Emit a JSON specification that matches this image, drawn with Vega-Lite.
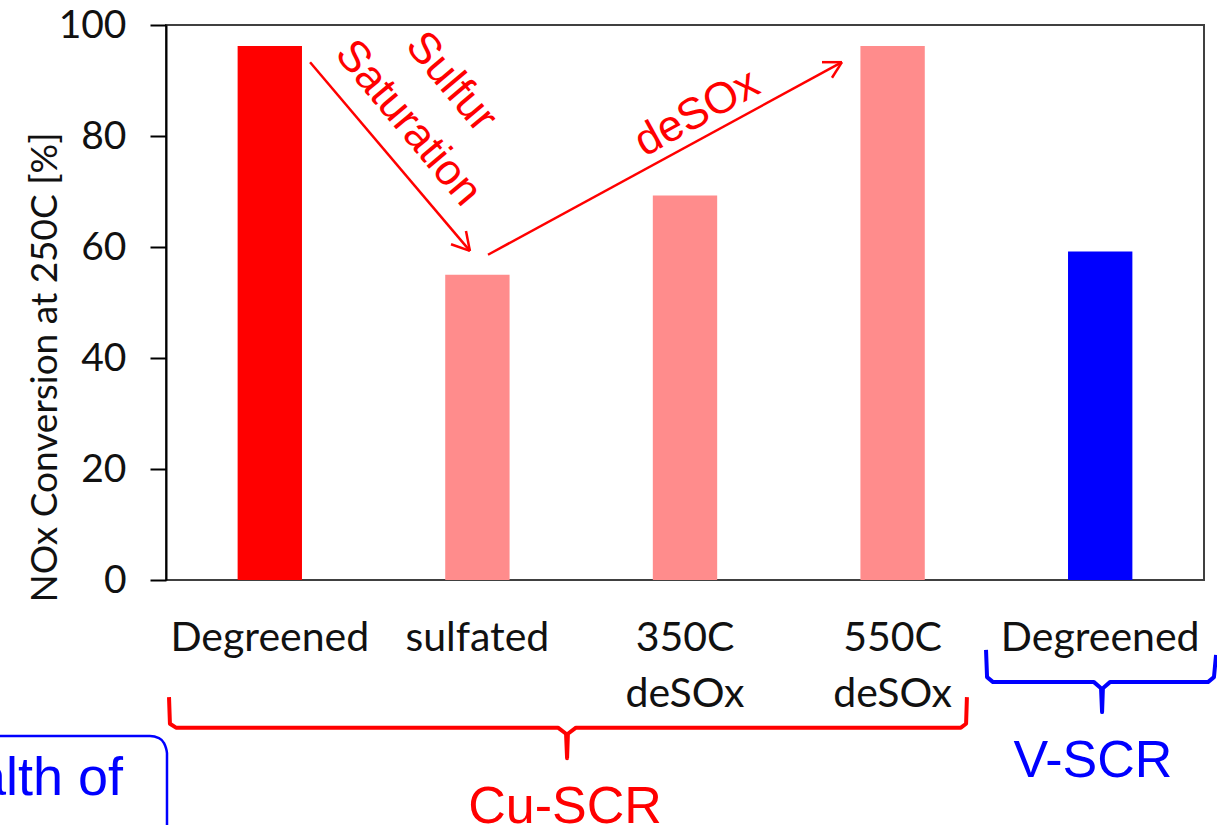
{
  "$schema": "https://vega.github.io/schema/vega-lite/v6.json",
  "width": 1038,
  "height": 555,
  "autosize": {"type": "none"},
  "padding": {"left": 166, "top": 25, "right": 13, "bottom": 245},
  "background": "white",
  "config": {"view": {"stroke": "#404040", "strokeWidth": 2}, "font": "Lato"},
  "datasets": {
    "bars": [
      {"cat": "Degreened", "value": 96.2, "sample": "Cu degreened"},
      {"cat": "sulfated", "value": 55.0, "sample": "Cu treated"},
      {"cat": "350C|deSOx", "value": 69.3, "sample": "Cu treated"},
      {"cat": "550C|deSOx", "value": 96.2, "sample": "Cu treated"},
      {"cat": "Degreened ", "value": 59.2, "sample": "V degreened"}
    ],
    "arrows": [
      {"x": 0.694, "y": 93.3, "x2": 1.464, "y2": 59.3},
      {"x": 1.445, "y": 62.9, "x2": 1.464, "y2": 59.3},
      {"x": 1.373, "y": 60.5, "x2": 1.464, "y2": 59.3},
      {"x": 1.551, "y": 58.6, "x2": 3.256, "y2": 93.3},
      {"x": 3.160, "y": 93.3, "x2": 3.256, "y2": 93.3},
      {"x": 3.208, "y": 90.5, "x2": 3.256, "y2": 93.3}
    ],
    "notes": [
      {"text": "Sulfur", "x": 1.373, "y": 89.7, "group": "down"},
      {"text": "Saturation", "x": 1.166, "y": 82.3, "group": "down"},
      {"text": "deSOx", "x": 2.558, "y": 84.1, "group": "up"},
      {"text": "Cu-SCR", "x": 1.922, "y": -43.8, "group": "cu"},
      {"text": "V-SCR", "x": 4.465, "y": -35.5, "group": "v"},
      {"text": "Wealth of", "x": -0.207, "y": -38.7, "group": "box"}
    ],
    "paths": [
      {"path": "cu", "i": 1, "x": 0.0145, "y": -21.1},
      {"path": "cu", "i": 2, "x": 0.019, "y": -25.9},
      {"path": "cu", "i": 3, "x": 0.048, "y": -26.6},
      {"path": "cu", "i": 4, "x": 1.888, "y": -26.6},
      {"path": "cu", "i": 5, "x": 1.927, "y": -27.7},
      {"path": "cu", "i": 6, "x": 1.932, "y": -32.1},
      {"path": "cu", "i": 7, "x": 1.936, "y": -27.7},
      {"path": "cu", "i": 8, "x": 1.975, "y": -26.6},
      {"path": "cu", "i": 9, "x": 3.829, "y": -26.6},
      {"path": "cu", "i": 10, "x": 3.854, "y": -25.9},
      {"path": "cu", "i": 11, "x": 3.858, "y": -21.1},
      {"path": "v", "i": 1, "x": 3.950, "y": -12.6},
      {"path": "v", "i": 2, "x": 3.955, "y": -17.5},
      {"path": "v", "i": 3, "x": 3.984, "y": -18.4},
      {"path": "v", "i": 4, "x": 4.470, "y": -18.4},
      {"path": "v", "i": 5, "x": 4.504, "y": -19.5},
      {"path": "v", "i": 6, "x": 4.509, "y": -23.8},
      {"path": "v", "i": 7, "x": 4.513, "y": -19.5},
      {"path": "v", "i": 8, "x": 4.547, "y": -18.4},
      {"path": "v", "i": 9, "x": 5.019, "y": -18.4},
      {"path": "v", "i": 10, "x": 5.048, "y": -17.5},
      {"path": "v", "i": 11, "x": 5.058, "y": -13.5},
      {"path": "box", "i": 1, "x": -0.848, "y": -28.1},
      {"path": "box", "i": 2, "x": -0.077, "y": -28.1},
      {"path": "box", "i": 3, "x": -0.034, "y": -28.5},
      {"path": "box", "i": 4, "x": -0.0096, "y": -29.4},
      {"path": "box", "i": 5, "x": 0.0, "y": -30.3},
      {"path": "box", "i": 6, "x": 0.0048, "y": -31.2},
      {"path": "box", "i": 7, "x": 0.0048, "y": -45.0}
    ]
  },
  "resolve": {"scale": {"x": "independent", "y": "independent"}, "axis": {"x": "independent", "y": "independent"}},
  "layer": [
    {
      "data": {"name": "bars"},
      "mark": {"type": "bar"},
      "encoding": {
        "x": {
          "field": "cat", "type": "nominal", "sort": null,
          "scale": {"paddingInner": 0.69, "paddingOuter": 0.345},
          "axis": {
            "title": null, "labelAngle": 0, "labelFont": "Lato", "labelFontSize": 41,
            "labelColor": "#111", "labelPadding": 38, "labelLineHeight": 56, "labelLimit": 0,
            "ticks": false, "domain": false,
            "labelExpr": "split(trim(datum.value), '|')"
          }
        },
        "y": {
          "field": "value", "type": "quantitative",
          "scale": {"domain": [0, 100], "nice": false},
          "axis": {
            "title": "NOx Conversion at 250C [%]", "values": [0, 20, 40, 60, 80, 100],
            "grid": false, "tickSize": 16, "tickColor": "#000", "tickWidth": 2,
            "domainColor": "#000", "domainWidth": 2,
            "labelFont": "Lato", "labelFontSize": 39, "labelColor": "#111", "labelPadding": 24,
            "titleFont": "Lato", "titleFontSize": 37, "titleFontWeight": "normal", "titleColor": "#111",
            "titleX": -102, "titleY": 342
          }
        },
        "color": {
          "field": "sample", "type": "nominal",
          "scale": {"domain": ["Cu degreened", "Cu treated", "V degreened"], "range": ["#ff0000", "#ff8c8c", "#0000ff"]},
          "legend": null
        }
      }
    },
    {
      "data": {"name": "arrows"},
      "mark": {"type": "rule", "color": "#ff0000", "strokeWidth": 2.5},
      "encoding": {
        "x": {"field": "x", "type": "quantitative", "scale": {"domain": [0, 5], "nice": false, "zero": false}, "axis": null},
        "x2": {"field": "x2"},
        "y": {"field": "y", "type": "quantitative", "scale": {"domain": [0, 100], "nice": false}, "axis": null},
        "y2": {"field": "y2"}
      }
    },
    {
      "data": {"name": "notes"},
      "transform": [{"filter": "datum.group === 'down'"}],
      "mark": {"type": "text", "color": "#ff0000", "font": "Liberation Sans", "fontSize": 44, "angle": 50, "align": "center", "baseline": "middle"},
      "encoding": {
        "x": {"field": "x", "type": "quantitative", "scale": {"domain": [0, 5], "nice": false, "zero": false}, "axis": null},
        "y": {"field": "y", "type": "quantitative", "scale": {"domain": [0, 100], "nice": false}, "axis": null},
        "text": {"field": "text"}
      }
    },
    {
      "data": {"name": "notes"},
      "transform": [{"filter": "datum.group === 'up'"}],
      "mark": {"type": "text", "color": "#ff0000", "font": "Liberation Sans", "fontSize": 44, "angle": -29, "align": "center", "baseline": "middle"},
      "encoding": {
        "x": {"field": "x", "type": "quantitative", "scale": {"domain": [0, 5], "nice": false, "zero": false}, "axis": null},
        "y": {"field": "y", "type": "quantitative", "scale": {"domain": [0, 100], "nice": false}, "axis": null},
        "text": {"field": "text"}
      }
    },
    {
      "data": {"name": "notes"},
      "transform": [{"filter": "datum.group === 'cu'"}],
      "mark": {"type": "text", "color": "#ff0000", "font": "Liberation Sans", "fontSize": 52, "align": "center", "baseline": "alphabetic"},
      "encoding": {
        "x": {"field": "x", "type": "quantitative", "scale": {"domain": [0, 5], "nice": false, "zero": false}, "axis": null},
        "y": {"field": "y", "type": "quantitative", "scale": {"domain": [0, 100], "nice": false}, "axis": null},
        "text": {"field": "text"}
      }
    },
    {
      "data": {"name": "notes"},
      "transform": [{"filter": "datum.group === 'v'"}],
      "mark": {"type": "text", "color": "#0000ff", "font": "Liberation Sans", "fontSize": 52, "align": "center", "baseline": "alphabetic"},
      "encoding": {
        "x": {"field": "x", "type": "quantitative", "scale": {"domain": [0, 5], "nice": false, "zero": false}, "axis": null},
        "y": {"field": "y", "type": "quantitative", "scale": {"domain": [0, 100], "nice": false}, "axis": null},
        "text": {"field": "text"}
      }
    },
    {
      "data": {"name": "notes"},
      "transform": [{"filter": "datum.group === 'box'"}],
      "mark": {"type": "text", "color": "#0000ff", "font": "Liberation Sans", "fontSize": 54, "align": "right", "baseline": "alphabetic"},
      "encoding": {
        "x": {"field": "x", "type": "quantitative", "scale": {"domain": [0, 5], "nice": false, "zero": false}, "axis": null},
        "y": {"field": "y", "type": "quantitative", "scale": {"domain": [0, 100], "nice": false}, "axis": null},
        "text": {"field": "text"}
      }
    },
    {
      "data": {"name": "paths"},
      "transform": [{"filter": "datum.path === 'cu'"}],
      "mark": {"type": "line", "color": "#ff0000", "strokeWidth": 4, "strokeJoin": "round"},
      "encoding": {
        "x": {"field": "x", "type": "quantitative", "scale": {"domain": [0, 5], "nice": false, "zero": false}, "axis": null},
        "y": {"field": "y", "type": "quantitative", "scale": {"domain": [0, 100], "nice": false}, "axis": null},
        "order": {"field": "i", "type": "quantitative"}
      }
    },
    {
      "data": {"name": "paths"},
      "transform": [{"filter": "datum.path === 'v'"}],
      "mark": {"type": "line", "color": "#0000ff", "strokeWidth": 4, "strokeJoin": "round"},
      "encoding": {
        "x": {"field": "x", "type": "quantitative", "scale": {"domain": [0, 5], "nice": false, "zero": false}, "axis": null},
        "y": {"field": "y", "type": "quantitative", "scale": {"domain": [0, 100], "nice": false}, "axis": null},
        "order": {"field": "i", "type": "quantitative"}
      }
    },
    {
      "data": {"name": "paths"},
      "transform": [{"filter": "datum.path === 'box'"}],
      "mark": {"type": "line", "color": "#0000ff", "strokeWidth": 2.5, "interpolate": "monotone"},
      "encoding": {
        "x": {"field": "x", "type": "quantitative", "scale": {"domain": [0, 5], "nice": false, "zero": false}, "axis": null},
        "y": {"field": "y", "type": "quantitative", "scale": {"domain": [0, 100], "nice": false}, "axis": null},
        "order": {"field": "i", "type": "quantitative"}
      }
    }
  ]
}
